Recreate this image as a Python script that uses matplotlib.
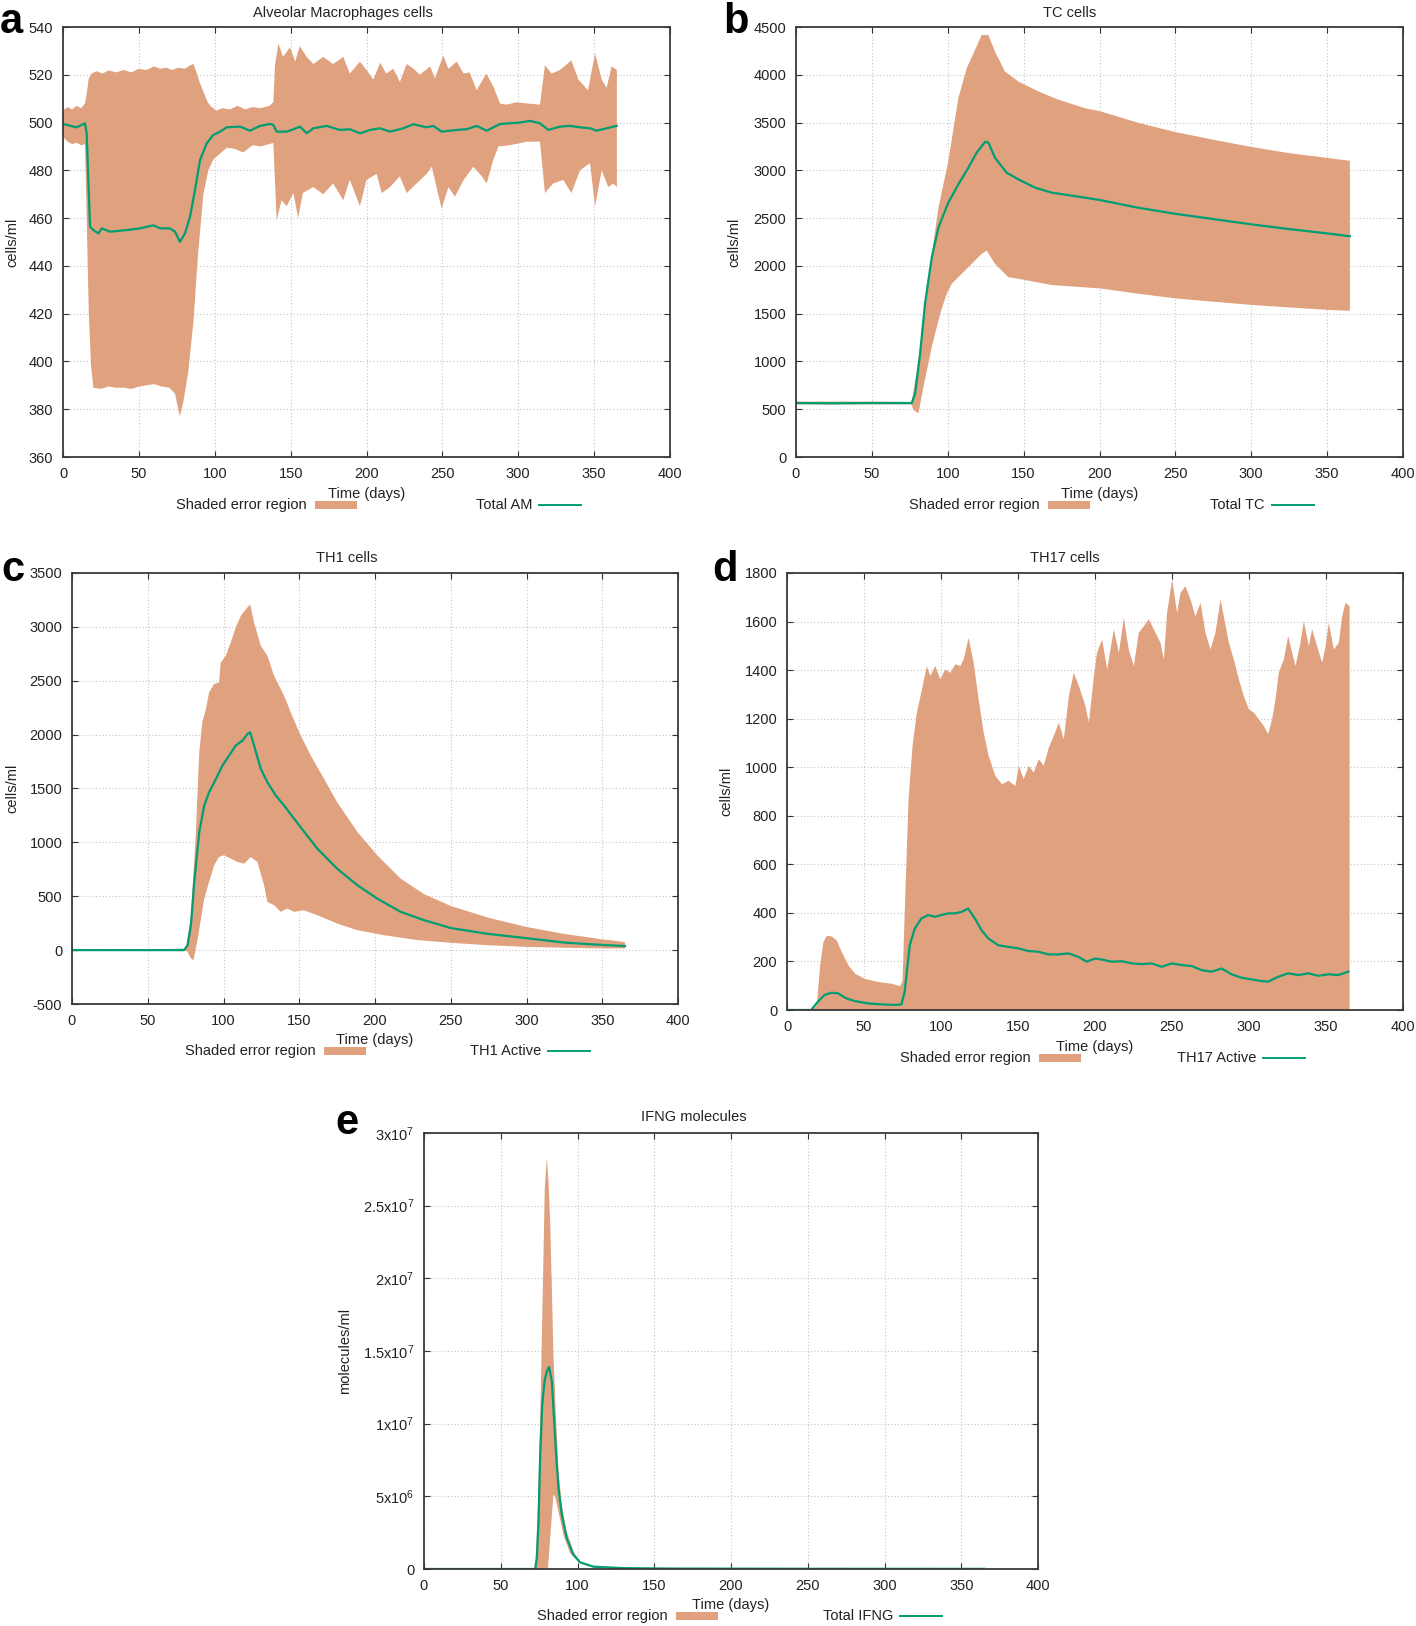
import numpy as np
import matplotlib
matplotlib.use("Agg")
import matplotlib.pyplot as plt
from matplotlib.patches import Rectangle
from matplotlib.lines import Line2D

plt.rcParams['font.family'] = ['Liberation Sans', 'DejaVu Sans']
plt.rcParams['mathtext.fontset'] = 'custom'
plt.rcParams['mathtext.rm'] = 'Liberation Sans'
plt.rcParams['mathtext.it'] = 'Liberation Sans'
plt.rcParams['axes.unicode_minus'] = False

# ---------------- data ----------------
# (a) Alveolar macrophages
a_up_day = [0, 3, 6, 9, 12, 14.5, 15.6, 17, 19, 22, 26, 30, 35, 40, 45, 50, 55, 60, 64, 68, 72, 76, 80, 84, 86,
            88, 90, 92.5, 95, 97, 101, 105, 110, 115, 120, 125, 130, 136, 138.6, 139.7, 142, 145, 149.6, 153, 156,
            160.6, 165, 171.5, 178, 184.7, 189, 195.7, 200, 204.5, 209, 213, 217.7, 222, 226.5, 231, 235.2, 242,
            245, 250.6, 254, 259.4, 264, 268, 272.6, 279, 283.6, 288, 292.3, 299, 305.5, 314.3, 317.6, 322, 327.5,
            335, 339.6, 346, 350.6, 355, 358.2, 361.5, 365]
a_up = [505, 506.5, 505.5, 507, 506, 508, 512, 518.5, 520.6, 521.5, 520.5, 521.8, 521, 522, 521, 522.5, 522, 523.5,
        522.5, 523, 522, 523, 522.5, 524, 524.5, 521, 517, 513, 509, 507, 505, 506, 505.5, 507, 505.5, 506.5, 506,
        507, 508.5, 524, 533, 527.5, 531.5, 525.5, 532, 527.5, 524.5, 527.5, 524.5, 527.5, 520.5, 525.5, 522, 518,
        525, 520.5, 522.5, 517, 524.5, 522.5, 520, 523.5, 518.5, 528, 522.5, 525.5, 520.5, 521, 513.5, 520.5, 515,
        508, 507.5, 508.5, 508, 507.5, 524, 520.5, 522, 526, 518, 513.5, 529, 518, 514.5, 523.5, 522]
a_lo_day = [0, 3, 6, 9, 12, 14.5, 15.6, 17, 18.5, 20, 25, 30, 35, 40, 45, 50, 55, 60, 65, 70, 73.8, 77, 79.3, 82.6,
            86, 89, 92.5, 95.8, 99, 103.5, 108, 113, 118.8, 125, 130, 136, 138.6, 140.8, 144, 147.4, 151.8, 155,
            158, 165, 171.5, 178, 184.7, 189, 195.7, 200, 206.7, 210, 215.5, 222, 226.5, 233, 239.6, 243, 249.5,
            254, 258.3, 264, 270.4, 276, 279.2, 283.6, 287, 294.5, 305.5, 314.3, 317.6, 323, 329.7, 335, 340.7,
            347.3, 350.6, 355, 359.3, 362.6, 365]
a_lo = [494, 492, 491, 491.5, 490.5, 491, 460, 420, 398, 389, 388.5, 389.5, 389, 389, 388.5, 389.5, 390, 390.5,
        389.5, 389, 386.5, 377, 383, 396, 417, 445, 470, 480, 484.5, 487, 489.5, 489, 487.5, 490.5, 490, 491, 491.5,
        459, 467.5, 465, 470.5, 460, 470.5, 473, 470, 474.5, 467.5, 476, 465, 476, 478.5, 470.5, 473, 477.5, 470.5,
        474.5, 478.5, 481.5, 464, 473, 469, 476, 481.5, 477.5, 474.5, 484.5, 490, 490.5, 492, 492, 470.5, 474.5,
        476, 470.5, 480, 483, 465, 480, 473, 474.5, 473]
a_mean_day = [0, 9, 14.5, 15.6, 17.8, 20, 23.3, 25.5, 31, 42, 50.7, 59.5, 64, 70.5, 73.8, 77.1, 80.4, 83.7, 87,
              90.3, 94.7, 99, 103.5, 107.9, 116.6, 123.2, 129.8, 136.4, 138.6, 140.8, 147.4, 151.8, 156.2, 160.6,
              165, 173.8, 182.5, 189, 195.7, 202.3, 208.9, 215.5, 224.3, 230.8, 239.6, 244, 249.5, 259.4, 266,
              272.6, 279.2, 288, 294.5, 301.1, 307.7, 314.3, 319.8, 327.5, 334.1, 340.7, 347.3, 351.7, 358.2, 364.8]
a_mean = [499.4, 498, 499.7, 495.5, 456.4, 455, 453.6, 455.7, 454.3, 455, 455.7, 457, 455.7, 455.7, 454.3, 450.1,
          453.6, 460.6, 471.8, 484.3, 491.3, 494.8, 496.2, 498, 498.3, 496.6, 498.6, 499.4, 499, 496.2, 496.2,
          497.2, 498.3, 495.5, 497.6, 498.6, 496.9, 497.2, 495.5, 496.9, 497.6, 496.2, 497.6, 499.3, 498, 498.6,
          496.2, 496.9, 497.2, 498.6, 496.6, 499.4, 499.7, 500, 500.7, 499.7, 496.9, 498.3, 498.6, 498, 497.6,
          496.6, 497.6, 498.6]

# (b) TC cells
b_up_day = [0, 50, 76.3, 80.7, 85, 89.5, 93.9, 100.4, 107, 112.5, 119, 122.3, 126.8, 131.1, 137.7, 146.5, 159.6,
            172.8, 190.4, 200, 225, 250, 275, 300, 325, 350, 365]
b_up = [580, 580, 575, 1014, 1604, 2125, 2611, 3097, 3757, 4069, 4295, 4416, 4416, 4243, 4034, 3930, 3826, 3740,
        3650, 3620, 3500, 3400, 3320, 3245, 3180, 3130, 3100]
b_lo_day = [0, 50, 76, 77.4, 80.7, 84, 89.5, 95, 99.3, 102.6, 109.2, 115.8, 122.3, 125.7, 131.1, 139.9, 146.5,
            168.4, 190.4, 200, 225, 250, 275, 300, 325, 350, 365]
b_lo = [550, 550, 550, 493, 458, 736, 1153, 1500, 1708, 1812, 1917, 2021, 2125, 2160, 2021, 1882, 1865, 1800, 1775,
        1765, 1710, 1660, 1625, 1592, 1565, 1540, 1530]
b_mean_day = [0, 25, 50, 76.3, 78.5, 81.8, 85, 89.5, 93.9, 100.4, 107, 113.6, 119, 124.6, 126.8, 131.1, 138.8,
              146.5, 157.5, 168.4, 190, 200, 225, 250, 275, 300, 325, 350, 365]
b_mean = [565, 562, 565, 565, 667, 1083, 1604, 2090, 2403, 2663, 2854, 3028, 3184, 3298, 3290, 3132, 2975, 2906,
          2819, 2767, 2715, 2690, 2610, 2545, 2490, 2435, 2385, 2340, 2310]

# (c) TH1 cells
c_up_day = [0, 50, 75.2, 78.5, 81.8, 84, 86, 88.4, 90.5, 93.8, 97, 98.2, 101.5, 104.8, 108, 111.4, 114.7, 117.6,
            120.2, 124.6, 129, 133.4, 140, 144.4, 150, 157.6, 166.4, 175, 188.4, 201.5, 217, 232.3, 250, 275, 300,
            325, 350, 365]
c_up = [5, 5, 15, 324, 1096, 1836, 2114, 2237, 2392, 2469, 2484, 2669, 2731, 2855, 2993, 3101, 3163, 3209, 3040,
        2824, 2731, 2546, 2361, 2207, 2021, 1805, 1589, 1373, 1096, 880, 663, 520, 410, 300, 215, 150, 100, 75]
c_lo_day = [0, 50, 75, 76.3, 78.5, 80.2, 83, 87.3, 90.5, 93.8, 97, 100.4, 104.8, 109.2, 113.6, 118, 122.4, 126.8,
            129, 133.4, 137.8, 142.2, 146.6, 153, 162, 175, 188.4, 205.9, 228, 250, 275, 300, 325, 350, 365]
c_lo = [-5, -5, -5, -15, -77, -93, 108, 478, 633, 787, 864, 880, 849, 818, 802, 864, 818, 602, 447, 417, 355, 386,
        355, 370, 324, 247, 185, 139, 93, 68, 45, 30, 22, 16, 15]
c_mean_day = [0, 50, 74, 76.3, 78.5, 80.7, 84, 87.3, 90.5, 95, 99.3, 103.7, 108, 112.5, 115.8, 117.6, 120.2, 124.6,
              129, 134.5, 140, 150, 162, 175, 188.4, 201.5, 217, 232.3, 250, 275, 300, 325, 350, 365]
c_mean = [0, 0, 0, 46, 231, 633, 1096, 1342, 1466, 1589, 1713, 1805, 1898, 1944, 2006, 2021, 1898, 1682, 1558,
          1435, 1342, 1157, 941, 756, 602, 478, 355, 278, 205, 150, 111, 70, 48, 38]

# (d) TH17 cells (lower edge of the band is 0)
d_up_day = [0, 15.7, 19, 21.2, 23.3, 25.5, 28.8, 32, 35.3, 39.6, 44, 50.4, 59, 67.8, 73.2, 74.7, 76.4, 78.6, 81.2,
            84, 87.3, 90.5, 92.7, 96, 99.2, 102.5, 105.7, 109, 112.2, 114.4, 117.6, 120.9, 124.1, 127.4, 130.6, 135,
            139.3, 143.6, 148, 150.2, 153.4, 156.6, 159.9, 163.2, 166.4, 169.7, 172.9, 176.2, 179.4, 182.7, 185.9,
            189.2, 193.5, 195.7, 199, 201, 204.3, 207.6, 211.9, 215.2, 218.4, 221.6, 224.9, 228.1, 231.4, 234.6,
            239, 242.2, 244.4, 246.5, 249.8, 253, 255.2, 258.4, 261.7, 264.9, 268.2, 271.4, 274.7, 277.9, 281.2,
            283.3, 286.6, 289.8, 293.1, 296.3, 299.6, 302.8, 306, 309.3, 312.1, 314.7, 316.9, 319, 322.3, 325.1,
            327.7, 329.9, 333.1, 335.3, 338.5, 340.7, 343.9, 347.2, 349.4, 351.5, 354.8, 358, 360.2, 362.3, 365]
d_up = [0, 0, 20, 185, 281, 308, 305, 288, 240, 185, 151, 130, 117, 110, 100, 123, 459, 870, 1090, 1227, 1323,
        1419, 1378, 1419, 1364, 1405, 1391, 1426, 1419, 1446, 1535, 1432, 1282, 1145, 1049, 966, 932, 946, 925,
        1008, 953, 1008, 980, 1035, 1008, 1083, 1131, 1186, 1117, 1295, 1391, 1337, 1254, 1186, 1378, 1474, 1529,
        1405, 1570, 1474, 1618, 1487, 1419, 1556, 1583, 1611, 1556, 1515, 1446, 1638, 1775, 1638, 1720, 1748, 1693,
        1624, 1679, 1556, 1487, 1556, 1693, 1624, 1515, 1446, 1364, 1295, 1241, 1227, 1200, 1172, 1138, 1200, 1282,
        1391, 1446, 1542, 1474, 1419, 1515, 1604, 1501, 1570, 1501, 1432, 1501, 1597, 1487, 1515, 1624, 1679, 1665]
d_mean_day = [0, 15.7, 20, 24.4, 28.8, 33.1, 38.5, 44, 52.6, 61.3, 70, 74.3, 76.4, 79.7, 83, 87.3, 91.6, 96, 100.3,
              104.6, 109, 113.3, 117.6, 122, 126.3, 130.6, 137.1, 143.6, 150.2, 156.6, 163.2, 169.7, 176.2, 182.7,
              189.2, 194.6, 200, 204.3, 210.8, 217.3, 223.8, 230.3, 236.8, 243.3, 249.8, 256.3, 262.8, 269.3,
              275.8, 282.2, 288.7, 295.2, 301.7, 308.2, 312.6, 319, 325.5, 332, 338.5, 345, 351.5, 358, 364.5]
d_mean = [0, 0, 34, 62, 71, 69, 48, 37, 27, 23, 21, 23, 75, 267, 336, 377, 391, 384, 391, 398, 398, 404, 418, 377,
          329, 295, 267, 260, 254, 243, 240, 229, 229, 233, 219, 199, 212, 208, 199, 201, 192, 189, 192, 178, 192,
          185, 181, 164, 158, 171, 147, 133, 126, 119, 117, 137, 151, 144, 151, 141, 147, 144, 158]

# (e) IFNG molecules
e_up_day = [0, 72.4, 73.9, 75.7, 77.4, 78.7, 80.0, 81.1, 82.2, 83.3, 84.3, 86.1, 87.6, 89.8, 93.0, 97.4, 101.7,
            110.4, 130, 160, 250, 365]
e_up = [0, 0, 3.26e6, 1.02e7, 1.93e7, 2.62e7, 2.83e7, 2.67e7, 2.39e7, 1.93e7, 1.48e7, 1.02e7, 6.8e6, 4.4e6,
        2.57e6, 1.19e6, 5.1e5, 1.6e5, 8e4, 4e4, 2e4, 1.5e4]
e_lo_day = [0, 72.4, 80.7, 84.3, 85.4, 87.6, 90.9, 95.2, 101.7, 110.4, 130, 200, 365]
e_lo = [0, 0, 0, 5.1e6, 5.0e6, 3.95e6, 2.34e6, 1.08e6, 3.9e5, 1.1e5, 4e4, 5e3, 5e3]
e_mean_day = [0, 72.4, 73.5, 74.6, 75.7, 77.0, 78.5, 80.0, 81.5, 83.3, 84.8, 86.1, 87.6, 89.8, 93.0, 97.4, 101.7,
              110.4, 130, 160, 250, 365]
e_mean = [0, 0, 7.4e5, 3.26e6, 7.86e6, 1.13e7, 1.29e7, 1.36e7, 1.39e7, 1.29e7, 1.02e7, 7.86e6, 5.56e6, 3.72e6,
          2.11e6, 9.7e5, 4.6e5, 1.6e5, 6e4, 3e4, 1.5e4, 1e4]

x_ticks = [0, 50, 100, 150, 200, 250, 300, 350, 400]
e_yticks = [0, 5e6, 1e7, 1.5e7, 2e7, 2.5e7, 3e7]
e_yticklabels = ['0', '5x10$^{6}$', '1x10$^{7}$', '1.5x10$^{7}$', '2x10$^{7}$', '2.5x10$^{7}$', '3x10$^{7}$']

FILL = '#e0a17f'
LINE = '#009e73'
W, H = 1416, 1626

fig = plt.figure(figsize=(W / 100, H / 100), dpi=100)


def fx(px):
    return px / W


def fy(py):
    return 1 - py / H


def panel(box, letter, letter_xy, title, title_xy, ylabel, ylabel_x, legend_label, xlabel_y, legend_y):
    l, t, r, b = box
    ax = fig.add_axes([fx(l), fy(b), (r - l) / W, (b - t) / H])
    ax.set_xlim(0, 400)
    ax.set_xticks(x_ticks)
    ax.grid(True, color='#c4c4c4', linestyle=(0, (1, 2)), linewidth=0.8)
    ax.set_axisbelow(True)
    ax.tick_params(direction='in', length=4, width=0.8, top=True, right=True,
                   labelsize=10.5, pad=7, colors='#333333', labelcolor='#222222')
    for s in ax.spines.values():
        s.set_color('#3a3a3a')
        s.set_linewidth(1.3)
    fig.text(fx(letter_xy[0]), fy(letter_xy[1]), letter, fontsize=30, fontweight='bold',
             ha='left', va='baseline')
    fig.text(fx(title_xy[0]), fy(title_xy[1]), title, fontsize=10.5, ha='center', va='center', color='#222222')
    fig.text(fx(ylabel_x), fy((t + b) / 2), ylabel, fontsize=10.5, rotation=90, ha='center', va='center',
             color='#222222')
    fig.text(fx((l + r) / 2), fy(b + xlabel_y), 'Time (days)', fontsize=10.5, ha='center', va='center',
             color='#222222')
    ly = b + legend_y
    fig.text(fx(l + 244), fy(ly), 'Shaded error region', fontsize=10.5, ha='right', va='center', color='#222222')
    fig.add_artist(Rectangle((fx(l + 252), fy(ly + 4)), 42 / W, 8 / H, transform=fig.transFigure,
                             facecolor=FILL, edgecolor='none'))
    fig.text(fx(l + 469), fy(ly), legend_label, fontsize=10.5, ha='right', va='center', color='#222222')
    fig.add_artist(Line2D([fx(l + 476), fx(l + 518)], [fy(ly), fy(ly)], transform=fig.transFigure,
                          color=LINE, linewidth=1.4))
    return ax


def band(ax, up_day, up, lo_day, lo):
    xs = np.concatenate([up_day, lo_day[::-1]])
    ys = np.concatenate([up, lo[::-1]])
    ax.fill(xs, ys, color=FILL, linewidth=0)


# (a)
ax = panel((63, 27, 670, 457), 'a', (0, 33), 'Alveolar Macrophages cells', (343, 13), 'cells/ml', 12,
           'Total AM', 37, 48)
band(ax, a_up_day, a_up, a_lo_day, a_lo)
ax.plot(a_mean_day, a_mean, color=LINE, linewidth=1.6)
ax.set_ylim(360, 540)
ax.set_yticks(np.arange(360, 541, 20))

# (b)
ax = panel((796, 27, 1403, 457), 'b', (723, 33), 'TC cells', (1070, 13), 'cells/ml', 734,
           'Total TC', 37, 48)
band(ax, b_up_day, b_up, b_lo_day, b_lo)
ax.plot(b_mean_day, b_mean, color=LINE, linewidth=1.6)
ax.set_ylim(0, 4500)
ax.set_yticks(np.arange(0, 4501, 500))

# (c)
ax = panel((72, 573, 678, 1004), 'c', (1, 581), 'TH1 cells', (347, 558), 'cells/ml', 12,
           'TH1 Active', 36, 47)
band(ax, c_up_day, c_up, c_lo_day, c_lo)
ax.plot(c_mean_day, c_mean, color=LINE, linewidth=1.6)
ax.set_ylim(-500, 3500)
ax.set_yticks(np.arange(-500, 3501, 500))

# (d)
ax = panel((787, 573, 1403, 1010), 'd', (712, 581), 'TH17 cells', (1065, 558), 'cells/ml', 726,
           'TH17 Active', 37, 48)
ax.fill_between(d_up_day, 0, d_up, color=FILL, linewidth=0)
ax.plot(d_mean_day, d_mean, color=LINE, linewidth=1.6)
ax.set_ylim(0, 1800)
ax.set_yticks(np.arange(0, 1801, 200))

# (e)
ax = panel((424, 1133, 1038, 1569), 'e', (335, 1134), 'IFNG molecules', (694, 1117), 'molecules/ml', 345,
           'Total IFNG', 36, 47)
band(ax, e_up_day, e_up, e_lo_day, e_lo)
ax.plot(e_mean_day, e_mean, color=LINE, linewidth=1.6)
ax.set_ylim(0, 3e7)
ax.set_yticks(e_yticks)
ax.set_yticklabels(e_yticklabels)

fig.savefig('out.png', dpi=100)
